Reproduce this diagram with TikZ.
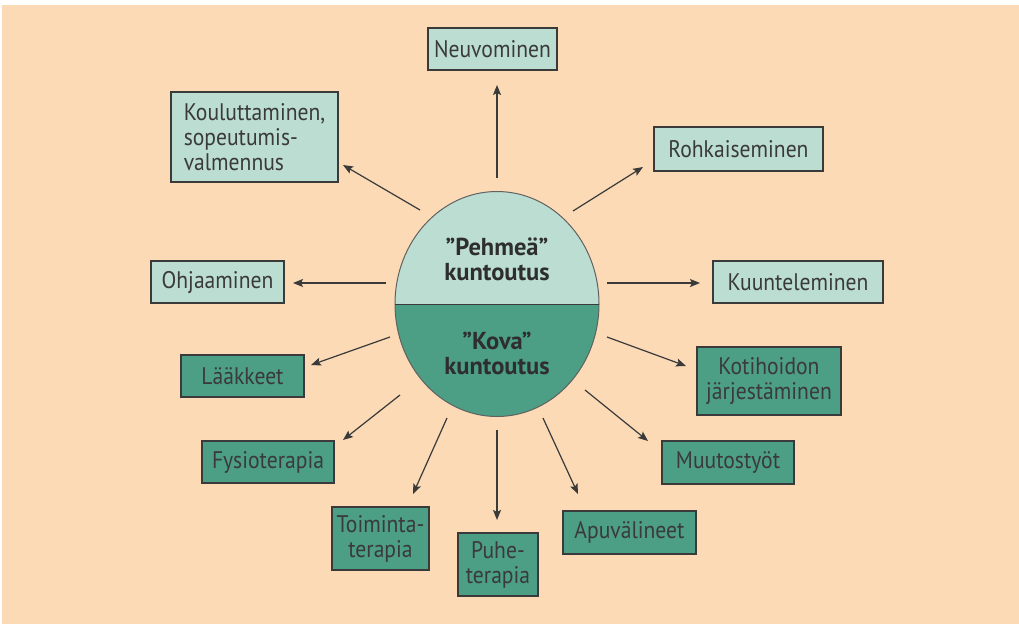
\documentclass[tikz,border=0pt]{standalone}
\usepackage{fontspec}
\setmainfont{PT Sans}
\newfontfamily\boxfont[FakeStretch=0.9]{PT Sans}
\usetikzlibrary{arrows.meta,shapes.geometric}
\definecolor{bgpeach}{HTML}{FBDAB5}
\definecolor{softc}{HTML}{BCDDD2}
\definecolor{hardc}{HTML}{4C9E85}
\definecolor{inkc}{HTML}{3A3A3A}
\tikzset{
  box/.style={draw=inkc, line width=1.4pt, text=inkc, inner sep=0pt, font=\boxfont\fontsize{24}{25}\selectfont, align=center},
  softbox/.style={box, fill=softc},
  hardbox/.style={box, fill=hardc},
  arr/.style={draw=inkc, line width=1.2pt, -{Stealth[length=10pt,width=8pt,inset=2pt]}},
  ctext/.style={text=inkc!80!black, font=\fontsize{24.5}{25}\selectfont\bfseries, align=center, inner sep=0pt}
}
\begin{document}
\begin{tikzpicture}[x=1pt,y=-1pt]
\useasboundingbox (0,0) rectangle (1019,624);
\fill[white] (0,0) rectangle (1019,624);
\fill[bgpeach] (2,5) rectangle (1019,624);

% central ellipse
\begin{scope}
  \clip (497,304) ellipse [x radius=102, y radius=112.5];
  \fill[softc] (380,180) rectangle (620,304);
  \fill[hardc] (380,304) rectangle (620,430);
\end{scope}
\node[draw=inkc!80, line width=1pt, ellipse, minimum width=204pt, minimum height=225pt, inner sep=0pt] (ell) at (497,304) {};
\draw[inkc, line width=1pt] (395,304) -- (599,304);
\node[ctext] (soft) at (497,259) {”Pehmeä”\\kuntoutus};
\node[ctext] (hard) at (497,353) {”Kova”\\kuntoutus};

% boxes
\node[softbox, minimum width=129pt, minimum height=42pt] (n1) at (492.5,49) {Neuvominen};
\node[softbox, minimum width=167pt, minimum height=90pt, align=left] (n2) at (254.5,137) {Kouluttaminen,\\sopeutumis-\\valmennus};
\node[softbox, minimum width=169pt, minimum height=44pt] (n3) at (738.5,149) {Rohkaiseminen};
\node[softbox, minimum width=170pt, minimum height=42pt] (n4) at (798,282) {Kuunteleminen};
\node[softbox, minimum width=133pt, minimum height=42pt] (n5) at (217.5,282) {Ohjaaminen};
\node[hardbox, minimum width=123pt, minimum height=42pt] (n6) at (242.5,376) {Lääkkeet};
\node[hardbox, minimum width=144pt, minimum height=68pt] (n7) at (769,381) {Kotihoidon\\järjestäminen};
\node[hardbox, minimum width=132pt, minimum height=42pt] (n8) at (268,462) {Fysioterapia};
\node[hardbox, minimum width=132pt, minimum height=43pt] (n9) at (728,462.5) {Muutostyöt};
\node[hardbox, minimum width=97pt, minimum height=63pt] (n10) at (380.5,538.5) {Toiminta-\\terapia};
\node[hardbox, minimum width=80pt, minimum height=63pt] (n11) at (498,564.5) {Puhe-\\terapia};
\node[hardbox, minimum width=133pt, minimum height=43pt] (n12) at (629.5,532.5) {Apuvälineet};

% arrow end points
\coordinate (s1) at (497,178);  \coordinate (e1) at (497,85);
\coordinate (s2) at (420,210);  \coordinate (e2) at (343,165);
\coordinate (s3) at (573,211);  \coordinate (e3) at (643,167);
\coordinate (s4) at (607,283);  \coordinate (e4) at (700,283);
\coordinate (s5) at (386,283);  \coordinate (e5) at (293,283);
\coordinate (s6) at (390,337);  \coordinate (e6) at (311,365);
\coordinate (s7) at (607,337);  \coordinate (e7) at (686,366);
\coordinate (s8) at (400,395);  \coordinate (e8) at (343,440);
\coordinate (s9) at (585,390);  \coordinate (e9) at (648,441);
\coordinate (s10) at (447,418); \coordinate (e10) at (413,494);
\coordinate (s11) at (497,430); \coordinate (e11) at (497,520);
\coordinate (s12) at (543,418); \coordinate (e12) at (578,494);

\foreach \i in {1,...,12} { \draw[arr] (s\i) -- (e\i); }
\end{tikzpicture}
\end{document}
